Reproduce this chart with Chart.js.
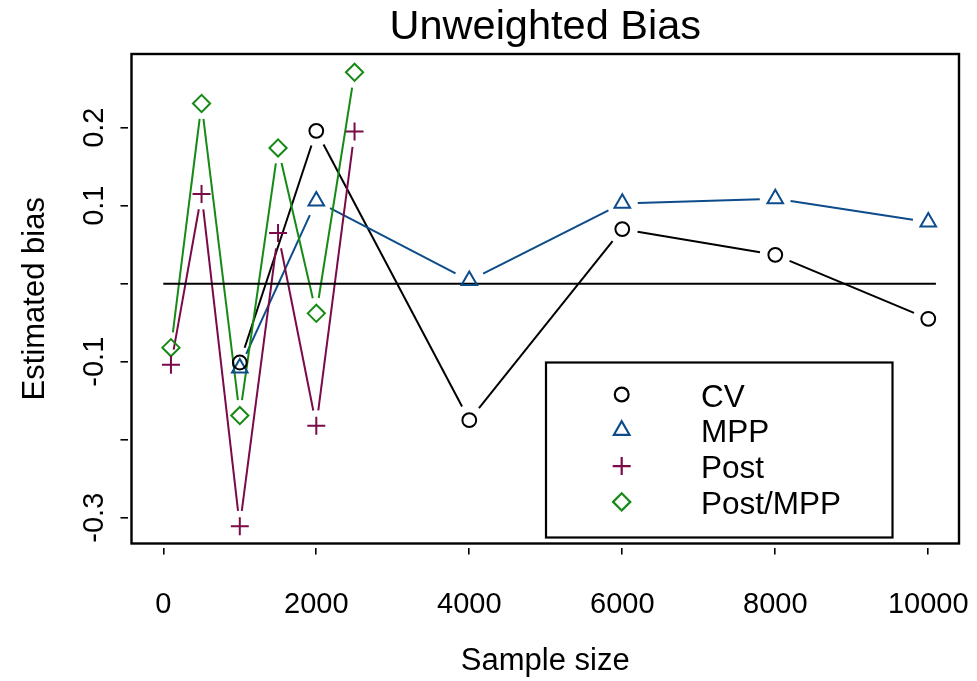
<!DOCTYPE html>
<html><head><meta charset="utf-8">
<script src="https://cdn.jsdelivr.net/npm/chart.js@4.4.1/dist/chart.umd.min.js"></script>
<style>html,body{margin:0;padding:0;background:#fff;} canvas{display:block;}</style>
</head><body>
<canvas id="c" width="977" height="681"></canvas>
<script>
// ---- data ----
const chartTitle = 'Unweighted Bias';
const xAxisTitle = 'Sample size';
const yAxisTitle = 'Estimated bias';
const xTicks = [0, 2000, 4000, 6000, 8000, 10000];
const yTicks = [-0.3, -0.2, -0.1, 0, 0.1, 0.2];
const yTickLabels = ['-0.3', '', '-0.1', '', '0.1', '0.2'];
const seriesNames = ['CV', 'MPP', 'Post', 'Post/MPP'];
const cvSizes = [1000, 2000, 4000, 6000, 8000, 10000];
const cvBias = [-0.101, 0.196, -0.175, 0.070, 0.037, -0.045];
const mppSizes = [1000, 2000, 4000, 6000, 8000, 10000];
const mppBias = [-0.108, 0.106, 0.004, 0.103, 0.109, 0.079];
const postSizes = [100, 500, 1000, 1500, 2000, 2500];
const postBias = [-0.104, 0.115, -0.311, 0.065, -0.182, 0.195];
const postMppSizes = [100, 500, 1000, 1500, 2000, 2500];
const postMppBias = [-0.082, 0.231, -0.169, 0.174, -0.038, 0.271];
const refLineX = [0, 10100];
const refLineY = [0, 0];

// ---- styles ----
const FONT = "'Liberation Sans', Arial, Helvetica, sans-serif";
const colors = ['#000000', '#0c4c8a', '#7a0a48', '#168a16'];
const styles = ['circle', 'triangle', 'cross', 'rectRot'];
const radii = [6.9, 9, 9, 8.6];
const GAP = 15.5;
const INSET = 4;
const LW = 2;

const toPts = (xs, ys) => xs.map((x, i) => ({x: x, y: ys[i]}));
const seriesData = [toPts(cvSizes, cvBias), toPts(mppSizes, mppBias), toPts(postSizes, postBias), toPts(postMppSizes, postMppBias)];

const datasets = seriesData.map((d, i) => ({
  label: seriesNames[i], data: d, showLine: false, gapLine: true,
  borderColor: colors[i], backgroundColor: 'rgba(0,0,0,0)',
  pointStyle: styles[i], pointRadius: radii[i], pointBorderWidth: LW,
  pointBackgroundColor: 'rgba(0,0,0,0)', pointBorderColor: colors[i], pointHoverRadius: radii[i]
}));
datasets.push({
  label: 'ref', data: toPts(refLineX, refLineY), showLine: true, borderColor: '#000', borderWidth: LW,
  pointRadius: 0, pointHoverRadius: 0, fill: false
});

const gapLines = {
  id: 'gapLines',
  beforeDatasetsDraw(chart) {
    const ctx = chart.ctx, a = chart.chartArea;
    ctx.save();
    ctx.beginPath(); ctx.rect(a.left, a.top, a.right - a.left, a.bottom - a.top); ctx.clip();
    chart.data.datasets.forEach((ds, i) => {
      if (!ds.gapLine) return;
      const pts = chart.getDatasetMeta(i).data;
      ctx.strokeStyle = ds.borderColor; ctx.lineWidth = LW; ctx.lineCap = 'butt';
      for (let k = 0; k < pts.length - 1; k++) {
        const p = pts[k], q = pts[k + 1];
        const dx = q.x - p.x, dy = q.y - p.y, d = Math.hypot(dx, dy);
        if (d <= 2 * GAP) continue;
        const ux = dx / d, uy = dy / d;
        ctx.beginPath();
        ctx.moveTo(p.x + ux * GAP, p.y + uy * GAP);
        ctx.lineTo(q.x - ux * GAP, q.y - uy * GAP);
        ctx.stroke();
      }
    });
    ctx.restore();
  }
};

const frameLegend = {
  id: 'frameLegend',
  afterDraw(chart) {
    const ctx = chart.ctx, a = chart.chartArea;
    ctx.save();
    ctx.strokeStyle = '#000'; ctx.lineWidth = 2.4;
    ctx.strokeRect(a.left + INSET, a.top + INSET, a.right - a.left - 2 * INSET, a.bottom - a.top - 2 * INSET);
    // legend box
    ctx.lineWidth = 2.2;
    ctx.strokeRect(546, 362.5, 346.5, 175);
    ctx.font = '31.5px ' + FONT; ctx.textBaseline = 'middle'; ctx.textAlign = 'left'; ctx.fillStyle = '#000';
    seriesNames.forEach((n, i) => {
      const y = 394.5 + i * 35.8;
      ctx.strokeStyle = colors[i]; ctx.fillStyle = 'rgba(0,0,0,0)';
      Chart.helpers.drawPoint(ctx, {pointStyle: styles[i], radius: radii[i], borderWidth: LW, rotation: 0}, 621.7, y);
      ctx.fillStyle = '#000';
      ctx.fillText(n, 701, y + 3.5);
    });
    ctx.restore();
  }
};

new Chart(document.getElementById('c'), {
  type: 'scatter',
  data: {datasets: datasets},
  options: {
    responsive: false, animation: false, devicePixelRatio: 1,
    layout: {autoPadding: false, padding: {left: 0, right: 14, top: 0, bottom: 0}},
    plugins: {
      legend: {display: false}, tooltip: {enabled: false},
      title: {display: true, text: chartTitle, fullSize: false, color: '#000',
        font: {family: FONT, size: 41.5, weight: 'normal'}, padding: {top: 3, bottom: -2.8}}
    },
    scales: {
      x: {
        type: 'linear', min: -468, max: 10454,
        afterBuildTicks: s => { s.ticks = xTicks.map(v => ({value: v})); },
        afterFit: s => { s.height = 133.5; s.paddingLeft = 0; s.paddingRight = 0; },
        border: {display: false},
        grid: {display: true, drawOnChartArea: false, drawTicks: true, tickLength: 7, color: '#000', lineWidth: 1.6},
        ticks: {autoSkip: false, maxRotation: 0, minRotation: 0, padding: 33, color: '#000',
          font: {family: FONT, size: 29}, callback: v => String(v)},
        title: {display: true, text: xAxisTitle, color: '#000', font: {family: FONT, size: 31},
          padding: {top: 0, bottom: 1}}
      },
      y: {
        type: 'linear', min: -0.3382, max: 0.2996,
        afterBuildTicks: s => { s.ticks = yTicks.map(v => ({value: v})); },
        afterFit: s => { s.width = 127.5; s.paddingTop = 0; s.paddingBottom = 0; },
        border: {display: false},
        grid: {display: true, drawOnChartArea: false, drawTicks: true, tickLength: 7, color: '#000', lineWidth: 1.6},
        ticks: {autoSkip: false, minRotation: 90, maxRotation: 90, crossAlign: 'center', padding: 0.5, color: '#000',
          font: {family: FONT, size: 29},
          callback: (v) => { const i = yTicks.findIndex(t => Math.abs(t - v) < 1e-9); return i >= 0 ? yTickLabels[i] : ''; }},
        title: {display: true, text: yAxisTitle, color: '#000', font: {family: FONT, size: 31},
          padding: {top: 17, bottom: 0}}
      }
    }
  },
  plugins: [gapLines, frameLegend]
});
</script>
</body></html>
